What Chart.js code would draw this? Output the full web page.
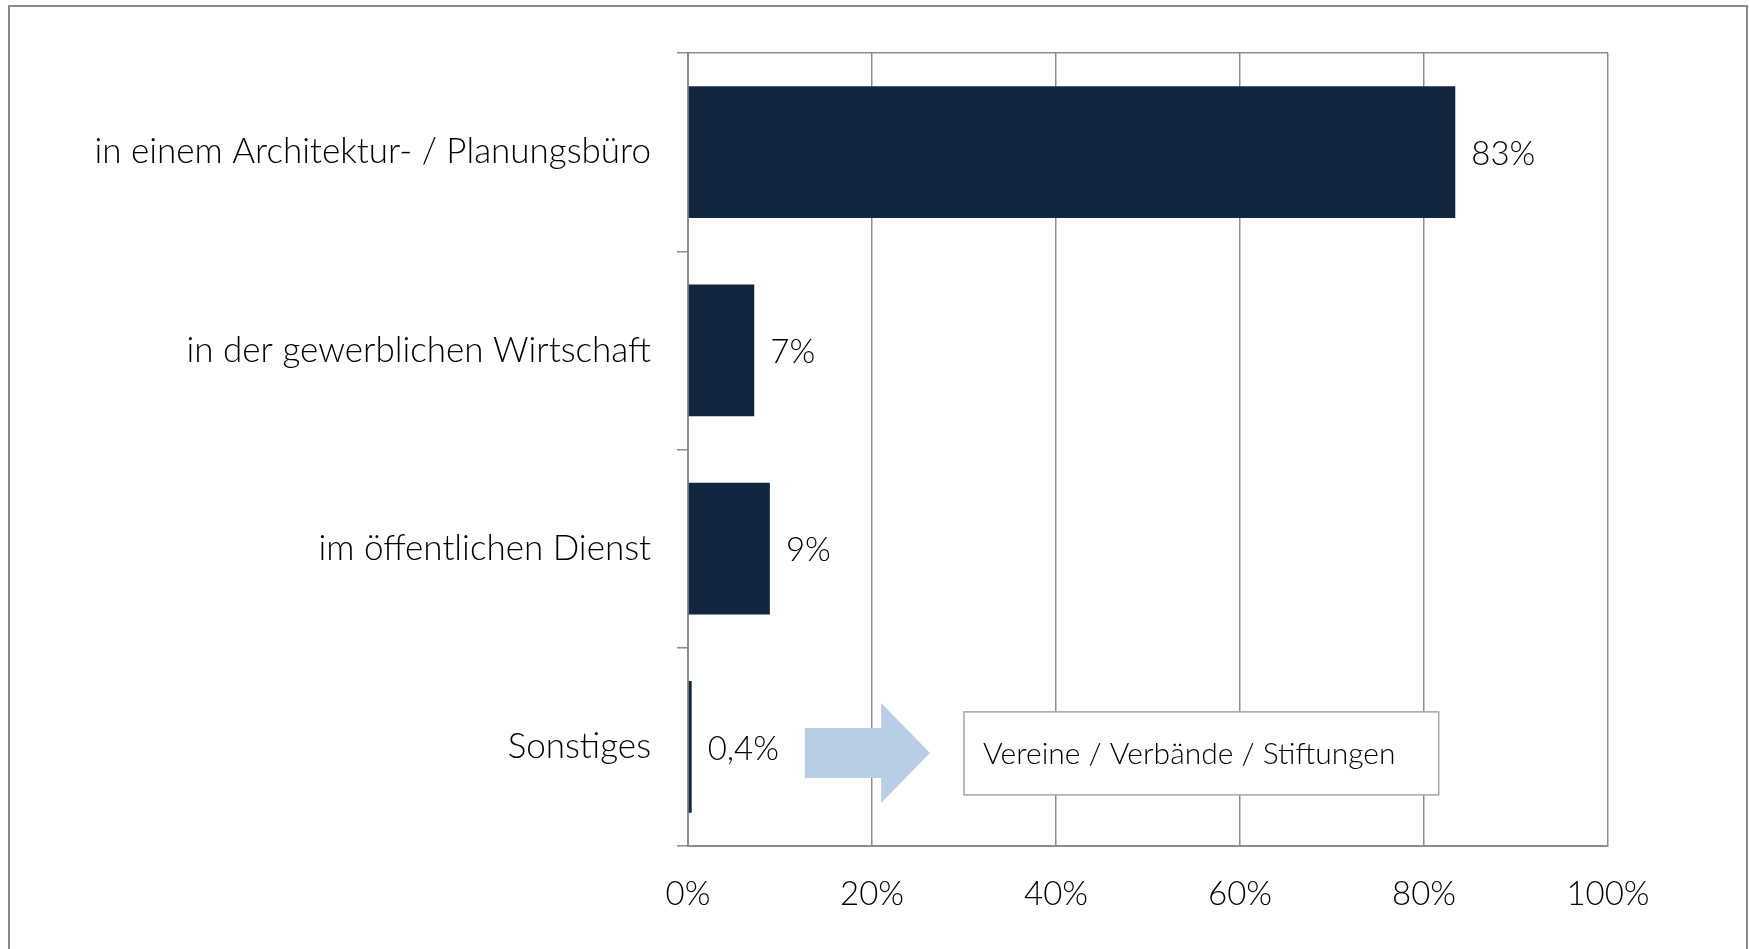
<!DOCTYPE html>
<html>
<head>
<meta charset="utf-8">
<script src="https://cdn.jsdelivr.net/npm/chart.js@4"></script>
<style>
  body { margin: 0; background: #fff; }
  #wrap { width: 1749px; height: 949px; position: relative; }
</style>
</head>
<body>
<div id="wrap"><canvas id="chart"></canvas></div>
<script>
// Beschäftigungsbereich
var categories = [
  "in einem Architektur- / Planungsbüro",
  "in der gewerblichen Wirtschaft",
  "im öffentlichen Dienst",
  "Sonstiges"
];
var shares = [83.4, 7.2, 8.9, 0.4];
var xTicks = [0, 20, 40, 60, 80, 100];
var noteText = "Vereine / Verbände / Stiftungen";

var barColor = "#13263f";
var axisGrey = "#8c8c8c";
var fontName = "Lato";

function fmtShare(v) {
  if (v < 1) return v.toFixed(1).replace(".", ",") + "%";
  return Math.round(v) + "%";
}

// outer frame of the original picture
const framePlugin = {
  id: "frame",
  beforeDraw(chart) {
    const c = chart.ctx;
    c.save();
    c.strokeStyle = "#8a8a8a";
    c.lineWidth = 2;
    c.beginPath();
    c.moveTo(9, 949);
    c.lineTo(9, 6);
    c.lineTo(1747, 6);
    c.lineTo(1747, 949);
    c.stroke();
    c.restore();
  }
};

// value labels to the right of each bar
const valueLabels = {
  id: "valueLabels",
  afterDatasetsDraw(chart) {
    const c = chart.ctx;
    const meta = chart.getDatasetMeta(0);
    c.save();
    c.font = "300 33px " + fontName;
    c.fillStyle = "#000";
    c.textBaseline = "middle";
    meta.data.forEach((bar, i) => {
      c.fillText(fmtShare(shares[i]), bar.x + 16, bar.y + 2);
    });
    c.restore();
  }
};

// arrow + box for "Sonstiges"
const notePlugin = {
  id: "note",
  afterDatasetsDraw(chart) {
    const c = chart.ctx;
    const x = chart.scales.x;
    const y = chart.scales.y;
    const cy = y.getPixelForValue(3) + 6;
    const x0 = x.getPixelForValue(12.7);
    const xh = x.getPixelForValue(21);
    const xt = x.getPixelForValue(26.3);
    c.save();
    c.fillStyle = "#b9cde5";
    c.beginPath();
    c.moveTo(x0, cy - 25);
    c.lineTo(xh, cy - 25);
    c.lineTo(xh, cy - 50);
    c.lineTo(xt, cy);
    c.lineTo(xh, cy + 50);
    c.lineTo(xh, cy + 25);
    c.lineTo(x0, cy + 25);
    c.closePath();
    c.fill();

    const bx0 = x.getPixelForValue(30);
    const bx1 = x.getPixelForValue(81.6);
    c.fillStyle = "#fff";
    c.fillRect(bx0, cy - 41, bx1 - bx0, 83);
    c.strokeStyle = "#a6a6a6";
    c.lineWidth = 1.5;
    c.strokeRect(bx0, cy - 41, bx1 - bx0, 83);
    c.fillStyle = "#000";
    c.font = "300 30px " + fontName;
    c.textBaseline = "middle";
    c.fillText(noteText, bx0 + 19, cy + 1);
    c.restore();
  }
};

new Chart("chart", {
  type: "bar",
  data: {
    labels: categories,
    datasets: [
      {
        data: shares,
        backgroundColor: barColor,
        barPercentage: 0.665,
        categoryPercentage: 1
      }
    ]
  },
  options: {
    indexAxis: "y",
    responsive: true,
    maintainAspectRatio: false,
    animation: false,
    layout: { padding: { left: 0, top: 53, right: 141, bottom: 0 } },
    plugins: {
      legend: { display: false },
      tooltip: { enabled: false }
    },
    scales: {
      x: {
        min: 0,
        max: 100,
        afterBuildTicks: (s) => { s.ticks = xTicks.map((v) => ({ value: v })); },
        afterFit: (s) => { s.height = 103; },
        border: { color: axisGrey, width: 2 },
        grid: { color: axisGrey, lineWidth: 1.5, drawTicks: false },
        ticks: {
          padding: 29,
          color: "#000",
          font: { family: fontName, size: 33, weight: 300 },
          callback: (v) => v + "%"
        }
      },
      y: {
        afterFit: (s) => { s.width = 688; },
        border: { color: axisGrey, width: 2 },
        grid: {
          offset: true,
          drawTicks: true,
          tickLength: 11,
          lineWidth: 1.5,
          color: (ctx) => (ctx.index === 0 ? axisGrey : "rgba(0,0,0,0)"),
          tickColor: axisGrey,
          tickWidth: 1.5
        },
        ticks: {
          padding: 26,
          color: "#000",
          font: { family: fontName, size: 35, weight: 300 }
        }
      }
    }
  },
  plugins: [framePlugin, valueLabels, notePlugin]
});
</script>
</body>
</html>
